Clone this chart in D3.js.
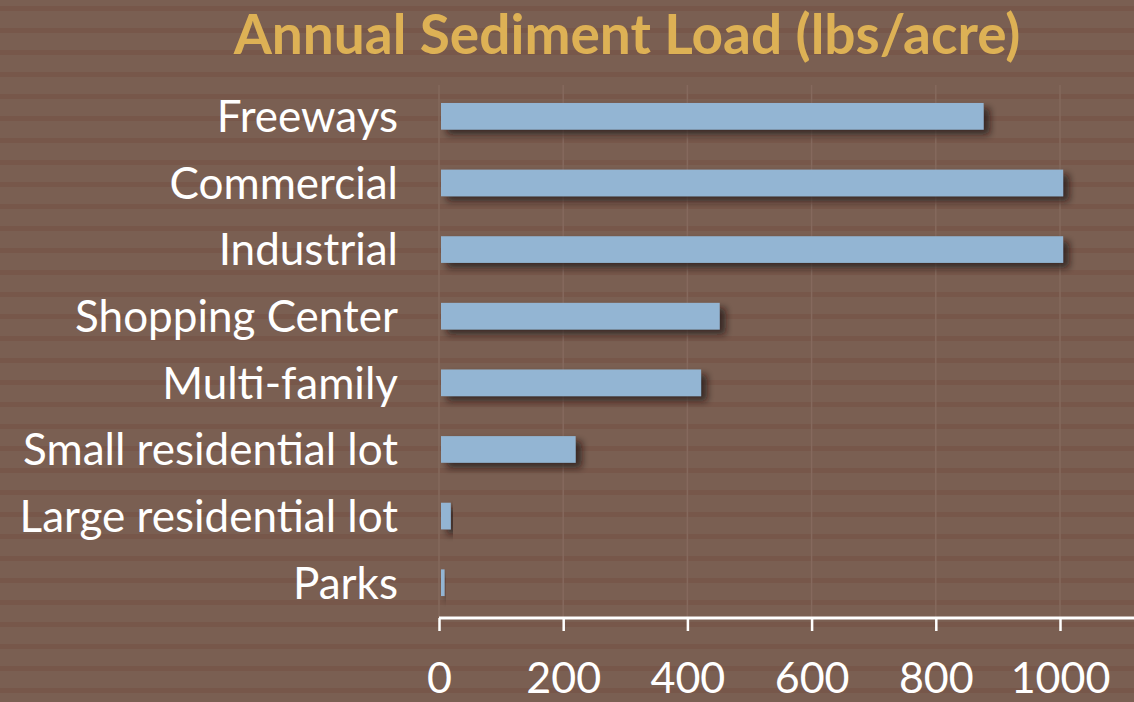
<!DOCTYPE html>
<html>
<head>
<meta charset="utf-8">
<script src="https://cdn.jsdelivr.net/npm/d3@7"></script>
<style>
  body { margin: 0; background: #7a5f52; }
  .tick-label { font-family: Lato, sans-serif; fill: #fff; }
</style>
</head>
<body>
<div id="chart"></div>
<script>
// data
const categories = ["Freeways", "Commercial", "Industrial", "Shopping Center",
  "Multi-family", "Small residential lot", "Large residential lot", "Parks"];
const loads = [877, 1005, 1005, 452, 422, 220, 19, 9];
const xTicks = [0, 200, 400, 600, 800, 1000];

const data = categories.map((c, i) => ({ name: c, value: loads[i] }));

const width = 1134;
const height = 702;
const margin = { top: 83, right: 0, bottom: 86, left: 439 };

const svg = d3.select("#chart")
  .append("svg")
  .attr("width", width)
  .attr("height", height);

const defs = svg.append("defs");

// striped background
const pattern = defs.append("pattern")
  .attr("id", "stripes")
  .attr("patternUnits", "userSpaceOnUse")
  .attr("width", 20)
  .attr("height", 22);
pattern.append("rect").attr("width", 20).attr("height", 22).attr("fill", "#7a5f52");
pattern.append("rect").attr("y", 6).attr("width", 20).attr("height", 5).attr("fill", "#77574a");

svg.append("rect")
  .attr("width", width)
  .attr("height", height)
  .attr("fill", "url(#stripes)");

const shadow = defs.append("filter")
  .attr("id", "shadow")
  .attr("x", "-10%").attr("y", "-40%")
  .attr("width", "130%").attr("height", "200%");
shadow.append("feDropShadow")
  .attr("dx", 6)
  .attr("dy", 5)
  .attr("stdDeviation", 3.5)
  .attr("flood-color", "#1e120c")
  .attr("flood-opacity", 0.7);

const xScale = d3.scaleLinear()
  .domain([0, 1120])
  .range([margin.left, margin.left + 1120 * 0.621]);

const yScale = d3.scaleBand()
  .domain(categories)
  .range([margin.top, 616])
  .paddingInner(0.6)
  .paddingOuter(0.3);

const axisY = 618;

// faint vertical grid
svg.append("g")
  .selectAll("line")
  .data(xTicks)
  .join("line")
  .attr("x1", d => xScale(d))
  .attr("x2", d => xScale(d))
  .attr("y1", 85)
  .attr("y2", axisY)
  .attr("stroke", "#85695d")
  .attr("stroke-width", 1.5);

// bars
svg.append("g")
  .selectAll("rect")
  .data(data)
  .join("rect")
  .attr("x", xScale(0) + 2)
  .attr("y", d => yScale(d.name))
  .attr("width", d => xScale(d.value) - xScale(0) - 2)
  .attr("height", yScale.bandwidth())
  .attr("fill", "#93b5d3")
  .attr("filter", "url(#shadow)");

// category labels
svg.append("g")
  .selectAll("text")
  .data(categories)
  .join("text")
  .attr("x", 398)
  .attr("y", d => yScale(d) + yScale.bandwidth() / 2)
  .attr("dy", "0.36em")
  .attr("text-anchor", "end")
  .attr("font-family", "Lato, sans-serif")
  .attr("font-size", 44)
  .attr("fill", "#fff")
  .text(d => d);

// x axis
const bottomAxis = d3.axisBottom(xScale)
  .tickValues(xTicks)
  .tickSize(13)
  .tickPadding(31)
  .tickFormat(d3.format("d"));

const gx = svg.append("g")
  .attr("transform", `translate(0, ${axisY})`)
  .call(bottomAxis);

gx.select(".domain")
  .attr("d", `M${xScale(0)},0H${width}`)
  .attr("stroke", "#fff")
  .attr("stroke-width", 3);
gx.selectAll(".tick line")
  .attr("stroke", "#fff")
  .attr("stroke-width", 2.5);
gx.selectAll(".tick text")
  .attr("class", "tick-label")
  .attr("font-size", 43)
  .attr("fill", "#fff");

// title
svg.append("text")
  .attr("x", 627)
  .attr("y", 54)
  .attr("text-anchor", "middle")
  .attr("font-family", "Lato, sans-serif")
  .attr("font-weight", "bold")
  .attr("font-size", 55)
  .attr("fill", "#ddb155")
  .text("Annual Sediment Load (lbs/acre)");
</script>
</body>
</html>
